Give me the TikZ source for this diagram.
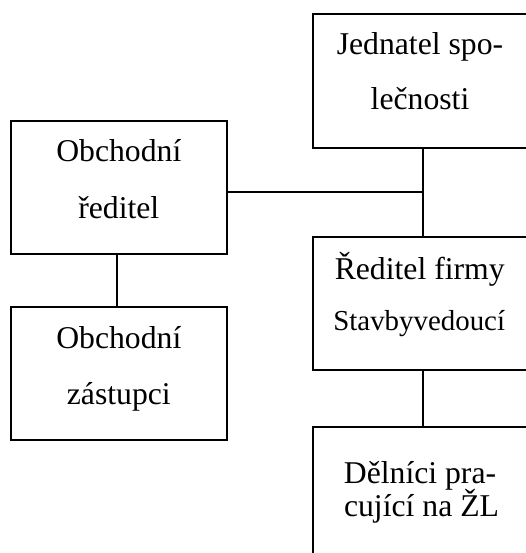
\documentclass[tikz,border=0pt]{standalone}
\usepackage{fontspec}
\setmainfont{Liberation Serif}
\begin{document}
\begin{tikzpicture}[x=1pt,y=-1pt,
  box/.style={draw,line width=1.8pt,rectangle,inner sep=0pt},
  lbl/.style={anchor=base,inner sep=0pt,font=\fontsize{31.7}{38}\selectfont},
  lblsmall/.style={anchor=base,inner sep=0pt,font=\fontsize{28.9}{34}\selectfont},
  conn/.style={line width=1.8pt}]
\useasboundingbox (0,0) rectangle (526,553);
\clip (0,0) rectangle (526,553);
% boxes
\node[box,minimum width=215.7pt,minimum height=133.3pt] (ob) at (118.85,187.35) {};
\node[box,minimum width=215.7pt,minimum height=133.3pt] (oz) at (118.85,373.35) {};
\node[box,minimum width=220.6pt,minimum height=134pt] (jed) at (423,81) {};
\node[box,minimum width=220.6pt,minimum height=133.3pt] (red) at (423,303.35) {};
\node[box,minimum width=220.6pt,minimum height=134pt] (del) at (423,493.7) {};
% texts
\node[lbl] (t1) at (118.8,161.7) {Obchodní};
\node[lbl] (t2) at (118.8,218.3) {ředitel};
\node[lbl] (t3) at (118.8,348.3) {Obchodní};
\node[lbl] (t4) at (118.8,404) {zástupci};
\node[lbl] (t5) at (420,55) {Jednatel spo-};
\node[lbl] (t6) at (420,110) {lečnosti};
\node[lbl] (t7) at (419.7,279.3) {Ředitel firmy};
\node[lblsmall] (t8) at (419.2,330) {Stavbyvedoucí};
\node[lbl] (t9) at (420,483.3) {Dělníci pra-};
\node[lbl] (t10) at (421.5,516) {cující na ŽL};
% connectors
\coordinate (j) at (423,192.3);
\draw[conn] (jed.south) -- (red.north);
\draw[conn] (ob.east |- j) -- (j);
\draw[conn] ([xshift=-2pt]ob.south) -- ([xshift=-2pt]oz.north);
\draw[conn] (red.south) -- (del.north);
\end{tikzpicture}
\end{document}
